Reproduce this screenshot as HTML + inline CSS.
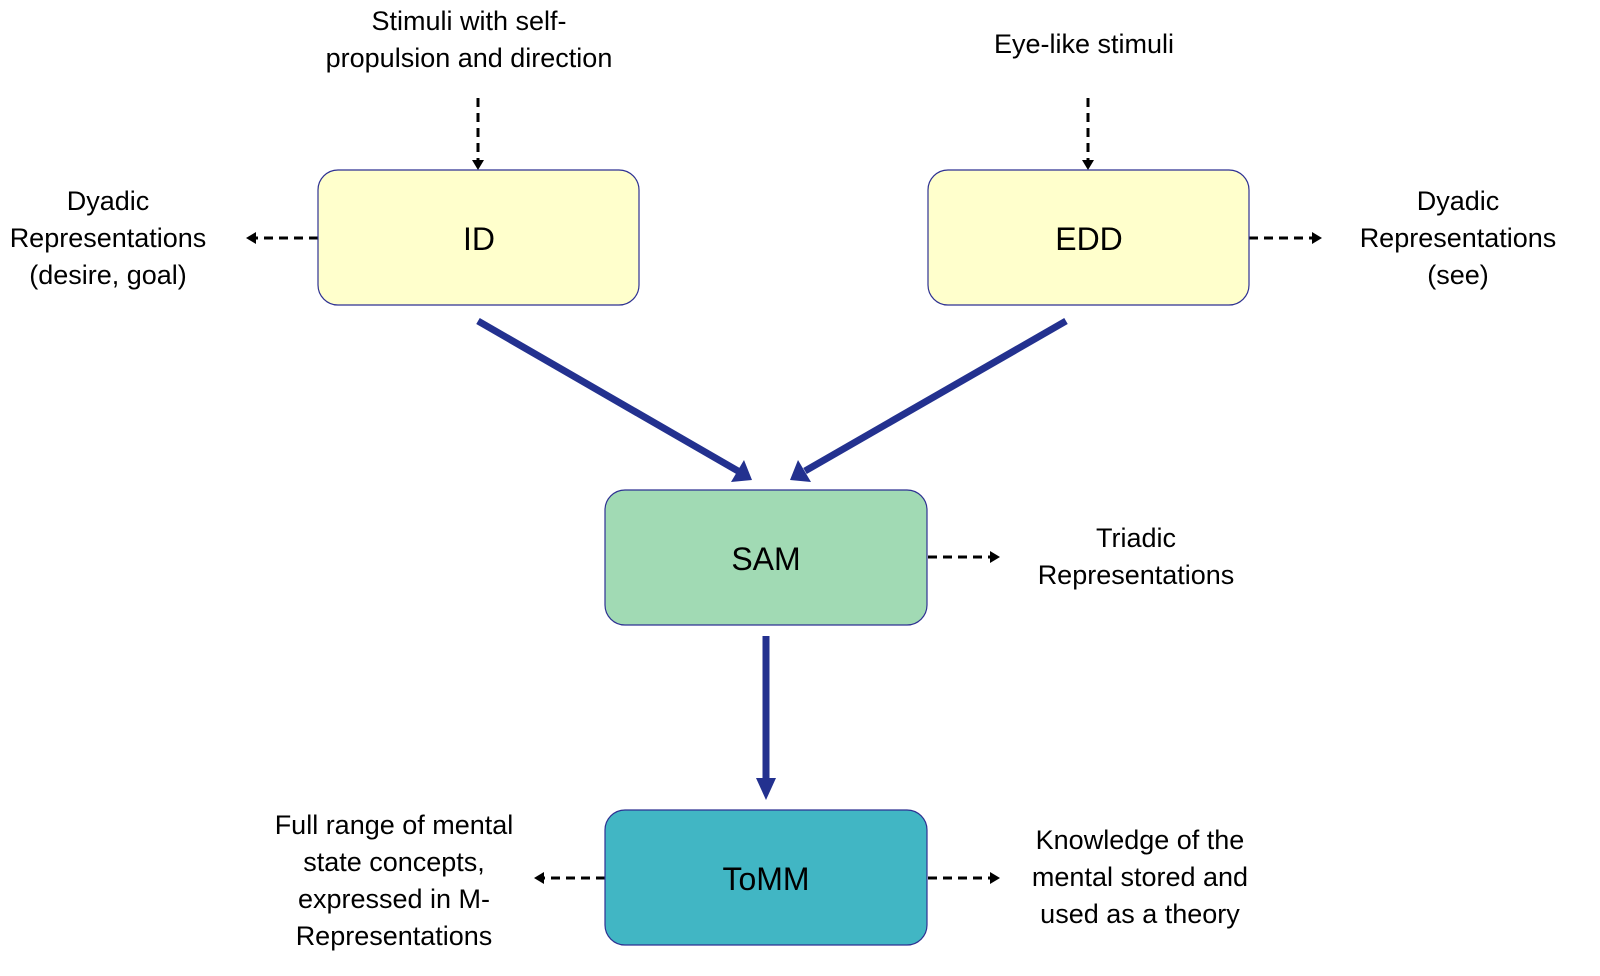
<!DOCTYPE html>
<html><head><meta charset="utf-8"><style>
html,body{margin:0;padding:0;background:#fff;}
svg{display:block;}
text{font-family:"Liberation Sans",sans-serif;fill:#000;}
.l{font-size:27px;text-anchor:middle;}
.b{font-size:32px;text-anchor:middle;}
</style></head><body>
<svg width="1600" height="976" viewBox="0 0 1600 976" xmlns="http://www.w3.org/2000/svg">
<g stroke="#000" stroke-width="3" stroke-dasharray="9,6" fill="none">
<line x1="478" y1="98" x2="478" y2="160"/>
<line x1="1088" y1="98" x2="1088" y2="160"/>
<line x1="318" y1="238" x2="256" y2="238"/>
<line x1="1249" y1="238" x2="1312" y2="238"/>
<line x1="928" y1="557" x2="990" y2="557"/>
<line x1="605" y1="878" x2="544" y2="878"/>
<line x1="928" y1="878" x2="990" y2="878"/>
</g>
<g fill="#000">
<path d="M472,160 L484,160 L478,170 z"/>
<path d="M1082,160 L1094,160 L1088,170 z"/>
<path d="M256,232 L256,244 L246,238 z"/>
<path d="M1312,232 L1312,244 L1322,238 z"/>
<path d="M990,551 L990,563 L1000,557 z"/>
<path d="M544,872 L544,884 L534,878 z"/>
<path d="M990,872 L990,884 L1000,878 z"/>
</g>
<g stroke="#23318F" stroke-width="7" fill="none">
<line x1="478" y1="321" x2="738" y2="471"/>
<line x1="1066" y1="321" x2="805" y2="471"/>
<line x1="766" y1="636" x2="766" y2="780"/>
</g>
<g fill="#23318F">
<path d="M752,480 L731,482 L744,460 z"/>
<path d="M790,480 L798,460 L811,482 z"/>
<path d="M766,800 L756,778 L776,778 z"/>
</g>
<rect x="318" y="170" width="321" height="135" rx="20" fill="#FFFFCC" stroke="#2E3192" stroke-width="1.2"/>
<rect x="928" y="170" width="321" height="135" rx="20" fill="#FFFFCC" stroke="#2E3192" stroke-width="1.2"/>
<rect x="605" y="490" width="322" height="135" rx="20" fill="#A1DAB4" stroke="#2E3192" stroke-width="1.2"/>
<rect x="605" y="810" width="322" height="135" rx="20" fill="#41B6C4" stroke="#2E3192" stroke-width="1.2"/>
<text class="b" x="479" y="250">ID</text>
<text class="b" x="1089" y="250">EDD</text>
<text class="b" x="766" y="570">SAM</text>
<text class="b" x="766" y="890">ToMM</text>
<text class="l" x="469" y="30">Stimuli with self-</text>
<text class="l" x="469" y="67">propulsion and direction</text>
<text class="l" x="1084" y="53">Eye-like stimuli</text>
<text class="l" x="108" y="210">Dyadic</text>
<text class="l" x="108" y="247">Representations</text>
<text class="l" x="108" y="284">(desire, goal)</text>
<text class="l" x="1458" y="210">Dyadic</text>
<text class="l" x="1458" y="247">Representations</text>
<text class="l" x="1458" y="284">(see)</text>
<text class="l" x="1136" y="547">Triadic</text>
<text class="l" x="1136" y="584">Representations</text>
<text class="l" x="394" y="834">Full range of mental</text>
<text class="l" x="394" y="871">state concepts,</text>
<text class="l" x="394" y="908">expressed in M-</text>
<text class="l" x="394" y="945">Representations</text>
<text class="l" x="1140" y="849">Knowledge of the</text>
<text class="l" x="1140" y="886">mental stored and</text>
<text class="l" x="1140" y="923">used as a theory</text>
</svg>
</body></html>
